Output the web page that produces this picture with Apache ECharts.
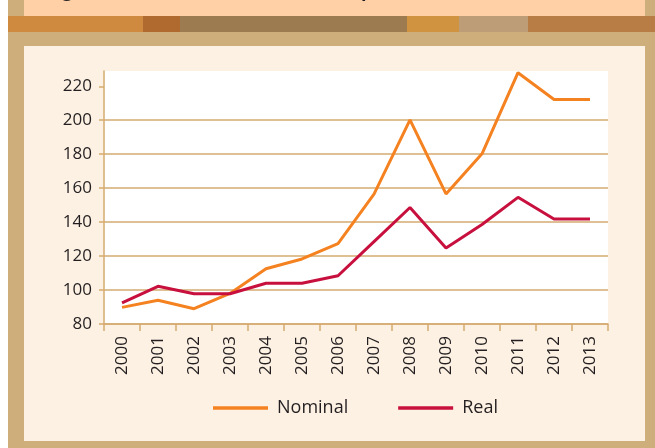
<!DOCTYPE html>
<html>
<head>
<meta charset="utf-8">
<script src="https://cdn.jsdelivr.net/npm/echarts@6/dist/echarts.min.js"></script>
<style>
html,body{margin:0;padding:0;background:#fff;}
#c{width:655px;height:448px;}
</style>
</head>
<body>
<div id="c"></div>
<script>
var years = ['2000','2001','2002','2003','2004','2005','2006','2007','2008','2009','2010','2011','2012','2013'];
var nominal = [89.8, 94, 89, 98, 112.5, 118.3, 127.4, 156.5, 200.2, 156.6, 180.2, 228, 212.2, 212.2];
var real = [92.4, 102.2, 97.8, 97.8, 104, 104, 108.4, 128.5, 148.6, 124.8, 138.6, 154.6, 141.8, 141.8];
var yTicks = [80, 100, 120, 140, 160, 180, 200, 220];

var tan = '#D5AB70';
var textColor = '#231F20';
var font = '"Open Sans", "Noto Sans", sans-serif';

var chart = echarts.init(document.getElementById('c'), null, {renderer: 'canvas'});

var stripes = [
  [8, 143, '#CF8A3F'], [143, 180, '#B06A30'], [180, 407, '#9C7B50'],
  [407, 459, '#D09340'], [459, 528, '#BD9C78'], [528, 655, '#B87C45']
];
var graphics = [
  {type: 'rect', silent: true, z: -10, shape: {x: 0, y: 0, width: 655, height: 448}, style: {fill: '#ffffff'}},
  {type: 'rect', silent: true, z: -9, shape: {x: 8, y: 0, width: 647, height: 448}, style: {fill: '#CEAE7B'}},
  {type: 'rect', silent: true, z: -8, shape: {x: 24, y: 0, width: 621, height: 16}, style: {fill: '#FFD0A6'}},
  {type: 'rect', silent: true, z: -8, shape: {x: 24, y: 46, width: 621, height: 395}, style: {fill: '#FDF1E3'}},
  {type: 'text', silent: true, z: -7, x: 47, y: -8, style: {text: 'Figure', font: 'bold 18px ' + font, fill: textColor, verticalAlign: 'middle'}},
  {type: 'text', silent: true, z: -7, x: 361, y: -8, style: {text: 'prices', font: 'bold 18px ' + font, fill: textColor, verticalAlign: 'middle'}}
];
stripes.forEach(function (s) {
  graphics.push({type: 'rect', silent: true, z: -6, shape: {x: s[0], y: 16, width: s[1] - s[0], height: 16}, style: {fill: s[2]}});
});

chart.setOption({
  animation: false,
  backgroundColor: 'transparent',
  graphic: graphics,
  grid: {
    left: 104, right: 47, top: 71, bottom: 124,
    show: true, backgroundColor: '#ffffff', borderWidth: 0
  },
  legend: {
    left: 213, top: 399, padding: 0,
    icon: 'rect',
    itemWidth: 55, itemHeight: 3.5, itemGap: 50,
    textStyle: {fontSize: 18, fontFamily: font, color: textColor, padding: [0, 0, 0, 4]},
    data: ['Nominal', 'Real']
  },
  xAxis: {
    type: 'category',
    data: years,
    boundaryGap: true,
    axisLine: {lineStyle: {color: tan, width: 1.5}},
    axisTick: {show: true, length: 7, lineStyle: {color: tan, width: 1.5}, interval: 0},
    axisLabel: {rotate: 90, margin: 12, interval: 0, fontSize: 17, fontFamily: font, color: textColor},
    splitLine: {show: false}
  },
  yAxis: {
    type: 'value',
    min: 80, max: 229, interval: 20,
    axisLine: {show: true, lineStyle: {color: tan, width: 1.5}},
    axisTick: {show: true, length: 5, lineStyle: {color: tan, width: 1.5}, customValues: yTicks},
    axisLabel: {margin: 12, fontSize: 17, fontFamily: font, color: textColor, customValues: yTicks},
    splitLine: {show: true, showMaxLine: false, lineStyle: {color: tan, width: 1.5}}
  },
  series: [
    {name: 'Nominal', type: 'line', data: nominal, symbol: 'none', color: '#F58220',
     lineStyle: {width: 3, color: '#F58220'}, z: 3},
    {name: 'Real', type: 'line', data: real, symbol: 'none', color: '#C8103E',
     lineStyle: {width: 3, color: '#C8103E'}, z: 4}
  ]
});
</script>
</body>
</html>
